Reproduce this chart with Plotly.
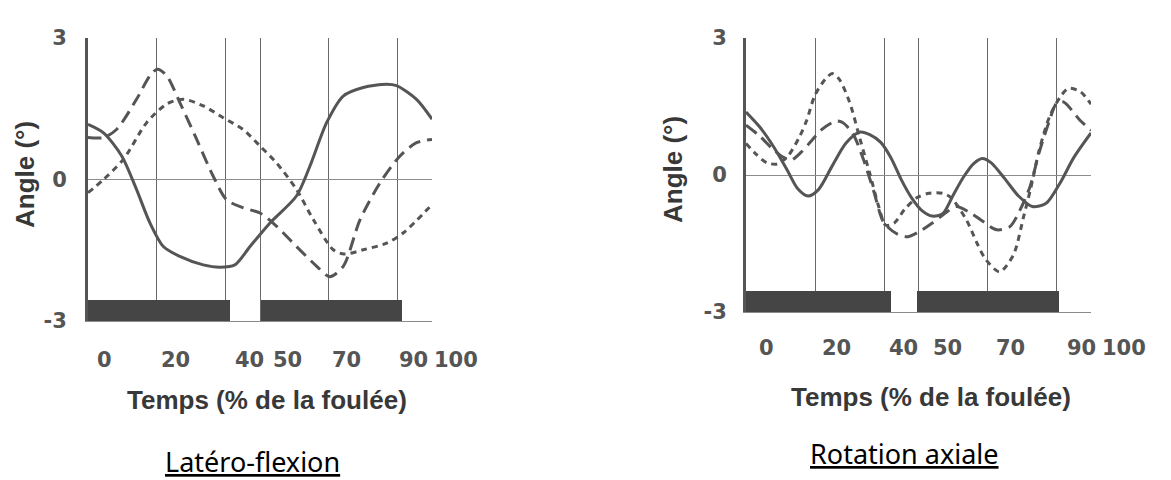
import plotly.graph_objects as go

# ---- Latéro-flexion (left panel) ----
lat_solid_x = [0, 4.5, 9.8, 14.1, 18, 21.9, 26.7, 33.5, 38.4, 42.7, 47.1, 52.9, 60.6, 64.5, 69.4, 74.2, 80, 86.8, 89.7, 95.5, 100]
lat_solid_y = [1.17, 0.99, 0.50, -0.21, -0.92, -1.42, -1.63, -1.81, -1.86, -1.81, -1.42, -0.92, -0.35, 0.28, 1.21, 1.77, 1.95, 2.02, 1.99, 1.70, 1.28]

lat_long_x = [0, 4.5, 8.3, 14.1, 18, 20.2, 22.9, 26.7, 31.6, 36.4, 40.3, 45.1, 50, 54.8, 60.6, 66.5, 70.3, 74.2, 79.1, 84.9, 90.7, 95.5, 100]
lat_long_y = [0.89, 0.89, 1.06, 1.70, 2.20, 2.34, 2.20, 1.63, 0.85, 0.07, -0.43, -0.60, -0.71, -0.99, -1.42, -1.84, -2.06, -1.84, -0.85, -0.07, 0.50, 0.78, 0.85]

lat_short_x = [0, 4.5, 10.3, 17.1, 22.9, 27.7, 33.5, 39.3, 45.1, 50, 54.8, 60.6, 65.5, 71.3, 74.5, 80, 86.8, 91.7, 100]
lat_short_y = [-0.28, 0.0, 0.43, 1.21, 1.60, 1.70, 1.56, 1.31, 1.06, 0.71, 0.35, -0.21, -0.85, -1.49, -1.58, -1.49, -1.35, -1.13, -0.53]

lat_stance_start = [0, 50.3]
lat_stance_end = [41.3, 91.3]

# ---- Rotation axiale (right panel) ----
rot_solid_x = [0, 4, 8, 12, 15, 18, 21, 25, 29, 33, 36, 39, 42, 45, 48, 51, 54, 57, 60, 63, 66, 68.5, 71, 75, 79, 83, 87, 91, 95, 100]
rot_solid_y = [1.38, 1.05, 0.62, 0.10, -0.30, -0.46, -0.32, 0.20, 0.70, 0.94, 0.88, 0.72, 0.38, -0.10, -0.50, -0.78, -0.90, -0.85, -0.45, -0.05, 0.25, 0.36, 0.27, -0.08, -0.46, -0.69, -0.62, -0.18, 0.38, 0.92]

rot_long_x = [0, 4, 8, 11, 13, 16, 19, 22, 26, 28, 31, 34, 37, 40, 44, 47, 50, 54, 58, 61, 65, 68, 72.7, 76.5, 79.4, 82.3, 85, 88, 90, 92, 96.8, 100]
rot_long_y = [1.09, 0.85, 0.55, 0.38, 0.32, 0.50, 0.75, 1.00, 1.18, 1.15, 0.90, 0.35, -0.35, -1.05, -1.30, -1.35, -1.25, -1.05, -0.82, -0.69, -0.83, -0.98, -1.20, -1.13, -0.77, -0.26, 0.50, 1.20, 1.57, 1.60, 1.20, 0.98]

rot_short_x = [0, 3, 6, 9, 12, 15.6, 17.6, 20, 23, 25, 27, 30, 33, 36, 38.5, 40.5, 43, 46, 49.5, 53, 57, 59.5, 64, 67, 69.5, 73.5, 77.5, 80.5, 82.5, 85, 88, 91, 93.5, 97, 100]
rot_short_y = [0.69, 0.45, 0.27, 0.24, 0.40, 0.85, 1.20, 1.75, 2.10, 2.22, 2.10, 1.60, 0.80, 0.00, -0.70, -1.10, -1.05, -0.75, -0.50, -0.40, -0.40, -0.50, -1.00, -1.50, -1.85, -2.12, -1.75, -0.90, -0.30, 0.55, 1.28, 1.70, 1.90, 1.82, 1.55]

rot_stance_start = [0, 49.6]
rot_stance_end = [42.0, 90.7]

stance_top = -2.55
y_min, y_max = -3, 3
grid_ticks = [0, 20, 40, 50, 70, 90, 100]
tick_text = ["0", "20", "40", "50", "70", "90", "100"]
y_ticks = [-3, 0, 3]
y_tick_text = ["-3", "0", "3"]

TICK_FONT = "DejaVu Sans"
TEXT_FONT = "Liberation Sans"

fig = go.Figure()


def add_panel(xa, ya, curves, starts, ends):
    mids = [(s + e) / 2 for s, e in zip(starts, ends)]
    widths = [e - s for s, e in zip(starts, ends)]
    fig.add_trace(go.Bar(
        x=mids, y=[stance_top - y_min] * len(mids), base=[y_min] * len(mids),
        width=widths, marker=dict(color="#454545", line=dict(width=0)),
        xaxis=xa, yaxis=ya, showlegend=False, hoverinfo="skip"))
    for xs, ys, dash in curves:
        fig.add_trace(go.Scatter(
            x=xs, y=ys, mode="lines", xaxis=xa, yaxis=ya, showlegend=False,
            line=dict(color="#555555", width=3, dash=dash, shape="spline", smoothing=0.8)))


add_panel("x", "y", [
    (lat_solid_x, lat_solid_y, "solid"),
    (lat_long_x, lat_long_y, "13px,7px"),
    (lat_short_x, lat_short_y, "6px,5px"),
], lat_stance_start, lat_stance_end)

add_panel("x2", "y2", [
    (rot_solid_x, rot_solid_y, "solid"),
    (rot_long_x, rot_long_y, "13px,7px"),
    (rot_short_x, rot_short_y, "6px,5px"),
], rot_stance_start, rot_stance_end)

W, H = 1171, 480


def xdom(a, b):
    return [a / W, b / W]


def ydom(top, bottom):
    return [(H - bottom) / H, (H - top) / H]


tick_font = dict(family=TICK_FONT, size=21, color="#555555", weight="bold")


def xaxis_cfg(domain, anchor):
    # gridlines sit on the phase boundaries; their labels are set below the axis
    return dict(
        domain=domain, anchor=anchor, range=[0, 100], automargin=False,
        tickmode="array", tickvals=grid_ticks, showticklabels=False,
        ticks="", showgrid=True, gridcolor="#6a6a6a", gridwidth=1,
        zeroline=False, showline=True, linecolor="#8a8a8a", linewidth=1,
        fixedrange=True)


def yaxis_cfg(domain, anchor, standoff):
    return dict(
        domain=domain, anchor=anchor, range=[y_min, y_max], automargin=False,
        tickmode="array", tickvals=y_ticks, ticktext=y_tick_text,
        ticks="", showgrid=False, zeroline=True, zerolinecolor="#8c8c8c",
        zerolinewidth=1, showline=True, linecolor="#555555", linewidth=3,
        tickfont=tick_font, ticklabelstandoff=standoff, fixedrange=True)


fig.update_layout(
    width=W, height=H,
    margin=dict(l=0, r=0, t=0, b=0, autoexpand=False),
    paper_bgcolor="white", plot_bgcolor="white",
    barmode="overlay", bargap=0,
    xaxis=xaxis_cfg(xdom(88, 432), "y"),
    yaxis=yaxis_cfg(ydom(38, 321), "x", 14),
    xaxis2=xaxis_cfg(xdom(746, 1091), "y2"),
    yaxis2=yaxis_cfg(ydom(38, 312), "x2", 12),
)

annotations = []

# x tick labels, printed a little to the right of their gridlines
label_nudges = {
    "x": ([17, 19, 24, 27, 18, 16, 24], -39),
    "x2": ([20, 21, 19, 29, 23, 25, 33], -36),
}
for xref, (nudges, drop) in label_nudges.items():
    yref = ("y" if xref == "x" else "y2") + " domain"
    for val, txt, dx in zip(grid_ticks, tick_text, nudges):
        annotations.append(dict(
            text=txt, x=val, y=0, xref=xref, yref=yref, xshift=dx, yshift=drop,
            font=tick_font, showarrow=False, xanchor="center", yanchor="middle"))

title_font = dict(family=TEXT_FONT, size=26, color="#383838", weight="bold")
caption_font = dict(family="Noto Sans", size=27, color="black")

texts = [
    dict(text="Temps (% de la foulée)", x=267 / W, y=1 - 400 / H, font=title_font),
    dict(text="Temps (% de la foulée)", x=931 / W, y=1 - 397 / H, font=title_font),
    dict(text="Angle (°)", x=25 / W, y=1 - 175 / H, font=title_font, textangle=-90),
    dict(text="Angle (°)", x=673 / W, y=1 - 170 / H, font=title_font, textangle=-90),
    dict(text="<u>Latéro-flexion</u>", x=252 / W, y=1 - 461 / H, font=caption_font),
    dict(text="<u>Rotation axiale</u>", x=904 / W, y=1 - 453 / H, font=caption_font),
]
for a in texts:
    a.update(xref="paper", yref="paper", showarrow=False, xanchor="center", yanchor="middle")
annotations.extend(texts)
fig.update_layout(annotations=annotations)

fig.write_html("out.html")
